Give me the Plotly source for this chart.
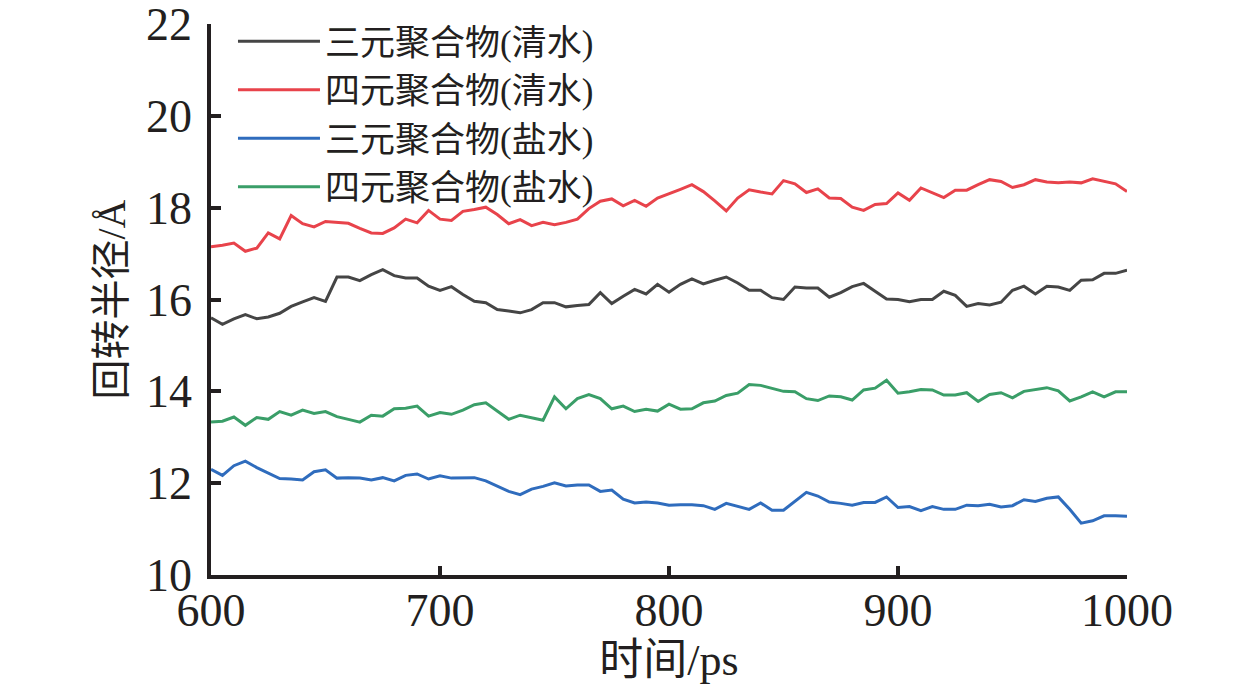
import plotly.graph_objects as go

# time axis, ps (sampled every 5 ps)
time_ps = list(range(600, 1001, 5))

# radius of gyration, Angstrom
ter_fresh = [15.60, 15.46, 15.58, 15.67, 15.58, 15.62, 15.70, 15.85, 15.95, 16.04,
             15.96, 16.49, 16.49, 16.41, 16.54, 16.65, 16.52, 16.47, 16.47, 16.29,
             16.20, 16.28, 16.11, 15.96, 15.93, 15.78, 15.75, 15.71, 15.78, 15.93,
             15.93, 15.84, 15.87, 15.89, 16.15, 15.91, 16.07, 16.22, 16.12, 16.33,
             16.16, 16.33, 16.45, 16.34, 16.42, 16.49, 16.36, 16.20, 16.20, 16.04,
             16.00, 16.27, 16.25, 16.25, 16.05, 16.15, 16.28, 16.35, 16.18, 16.01,
             16.00, 15.95, 16.00, 16.00, 16.18, 16.09, 15.85, 15.91, 15.88, 15.94,
             16.20, 16.29, 16.12, 16.29, 16.27, 16.20, 16.42, 16.43, 16.57, 16.57,
             16.64]
quat_fresh = [17.15, 17.18, 17.23, 17.05, 17.12, 17.45, 17.32, 17.83, 17.65, 17.58,
              17.70, 17.68, 17.66, 17.55, 17.45, 17.44, 17.56, 17.75, 17.67, 17.94,
              17.75, 17.72, 17.92, 17.96, 18.01, 17.85, 17.65, 17.74, 17.61, 17.68,
              17.63, 17.68, 17.75, 17.98, 18.14, 18.19, 18.04, 18.16, 18.03, 18.21,
              18.30, 18.40, 18.50, 18.35, 18.15, 17.93, 18.21, 18.39, 18.34, 18.30,
              18.59, 18.52, 18.33, 18.41, 18.21, 18.20, 18.01, 17.94, 18.07, 18.09,
              18.32, 18.16, 18.43, 18.32, 18.22, 18.38, 18.38, 18.50, 18.61, 18.57,
              18.44, 18.50, 18.61, 18.56, 18.54, 18.56, 18.54, 18.63, 18.57, 18.52,
              18.35]
ter_brine = [12.30, 12.17, 12.38, 12.48, 12.34, 12.22, 12.10, 12.09, 12.07, 12.25,
             12.29, 12.11, 12.12, 12.11, 12.07, 12.12, 12.05, 12.17, 12.20, 12.09,
             12.16, 12.11, 12.12, 12.12, 12.05, 11.93, 11.82, 11.75, 11.87, 11.93,
             12.01, 11.94, 11.96, 11.96, 11.82, 11.85, 11.65, 11.57, 11.59, 11.57,
             11.52, 11.53, 11.53, 11.51, 11.43, 11.56, 11.49, 11.43, 11.57, 11.41,
             11.41, 11.60, 11.80, 11.72, 11.59, 11.56, 11.52, 11.58, 11.58, 11.70,
             11.47, 11.49, 11.40, 11.49, 11.43, 11.43, 11.52, 11.51, 11.54, 11.48,
             11.51, 11.64, 11.60, 11.67, 11.70, 11.43, 11.13, 11.18, 11.29, 11.29,
             11.28]
quat_brine = [13.33, 13.35, 13.44, 13.26, 13.43, 13.39, 13.56, 13.48, 13.59, 13.52,
              13.56, 13.45, 13.39, 13.33, 13.48, 13.46, 13.62, 13.63, 13.68, 13.46,
              13.54, 13.50, 13.59, 13.71, 13.75, 13.57, 13.39, 13.48, 13.43, 13.37,
              13.88, 13.62, 13.84, 13.93, 13.84, 13.62, 13.68, 13.56, 13.61, 13.57,
              13.72, 13.61, 13.62, 13.75, 13.79, 13.91, 13.96, 14.15, 14.13, 14.06,
              14.00, 13.99, 13.84, 13.80, 13.90, 13.88, 13.81, 14.03, 14.07, 14.24,
              13.96, 13.99, 14.04, 14.03, 13.92, 13.92, 13.97, 13.78, 13.93, 13.97,
              13.86, 14.00, 14.04, 14.08, 14.01, 13.79, 13.88, 13.99, 13.88, 13.99,
              13.99]

names = ["三元聚合物(清水)", "四元聚合物(清水)", "三元聚合物(盐水)", "四元聚合物(盐水)"]
series = [ter_fresh, quat_fresh, ter_brine, quat_brine]
colors = ["#454545", "#e8434b", "#2f6cbd", "#3a9e68"]

font_fam = "Liberation Serif, Times New Roman, Noto Sans CJK SC, serif"

fig = go.Figure()
for name, ys, c in zip(names, series, colors):
    fig.add_trace(go.Scatter(x=time_ps, y=ys, mode="lines", name=name,
                             line=dict(color=c, width=3)))

# page body has an 8px margin, so margins are trimmed by 8
fig.update_layout(
    width=1260, height=697,
    paper_bgcolor="white", plot_bgcolor="white",
    margin=dict(l=203, r=141, t=16, b=130, autoexpand=False),
    font=dict(family=font_fam, size=40, color="#231f20"),
    legend=dict(x=0.024, y=1.022, xanchor="left", yanchor="top",
                bgcolor="rgba(0,0,0,0)", font=dict(size=35),
                tracegroupgap=0, itemwidth=82),
    showlegend=True,
)
fig.update_xaxes(range=[600, 1000], tickvals=[600, 700, 800, 900, 1000],
                 showgrid=False, zeroline=False, automargin=True,
                 showline=True, linecolor="#231f20", linewidth=3.5,
                 ticks="inside", ticklen=9, tickwidth=3.5, tickcolor="#231f20",
                 tickfont=dict(size=46), ticklabelstandoff=-8,
                 ticklabeloverflow="allow",
                 title=dict(text="时间/ps", font=dict(size=44), standoff=6))
fig.update_yaxes(range=[10, 22], tickvals=[10, 12, 14, 16, 18, 20, 22],
                 showgrid=False, zeroline=False, automargin=False,
                 showline=True, linecolor="#231f20", linewidth=3.5,
                 ticks="inside", ticklen=10, tickwidth=3.5, tickcolor="#231f20",
                 tickfont=dict(size=46), ticklabelstandoff=6,
                 ticklabeloverflow="allow",
                 title=dict(text="回转半径/Å", font=dict(size=40), standoff=9))

fig.write_html("out.html")
